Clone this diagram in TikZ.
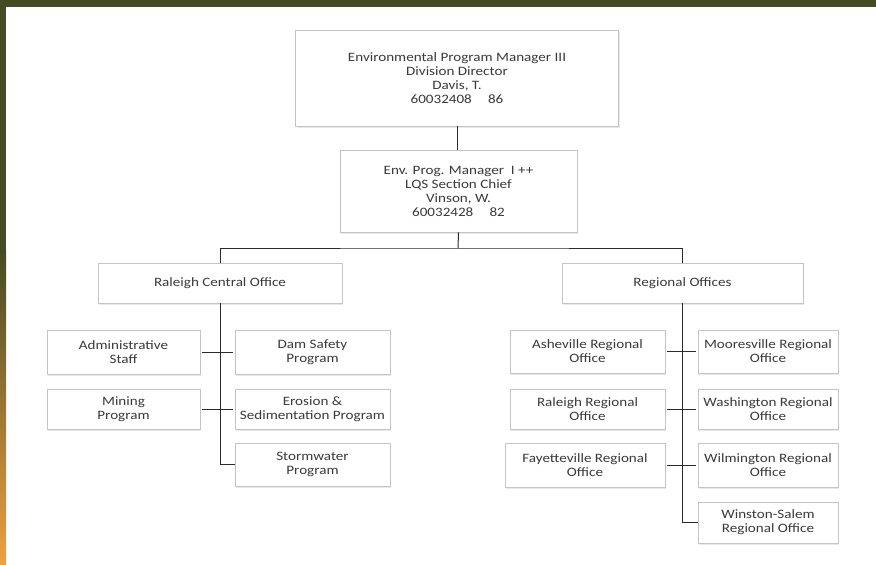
\documentclass[tikz,border=0pt]{standalone}
\usepackage{fontspec}
\setmainfont{Carlito}[FakeStretch=1.18]
\usetikzlibrary{shadows}
\definecolor{olive}{HTML}{454B22}
\definecolor{orangeb}{HTML}{F0A040}
\definecolor{boxline}{HTML}{C4C4C4}
\definecolor{txt}{HTML}{3A3A3A}
\definecolor{conn}{HTML}{2A2A2A}
\begin{document}
\begin{tikzpicture}[x=1pt,y=-1pt,
  box/.style={draw=boxline, line width=0.8pt, fill=white, text=txt, align=center,
    font=\fontsize{12.8}{14}\selectfont, inner sep=0pt,
    drop shadow={opacity=0.18, shadow xshift=1pt, shadow yshift=-1.5pt}},
  conn/.style={draw=conn, line width=1pt}]
\useasboundingbox (0,0) rectangle (876,565);
\fill[white] (0,0) rectangle (876,565);
\fill[olive] (0,0) rectangle (876,7);
\fill[olive] (0,0) rectangle (6,250);
\shade[top color=olive, bottom color=orangeb] (0,250) rectangle (6,565);

% top levels
\node[box, minimum width=323pt, minimum height=96pt] (dir) at (457,78)
  {Environmental Program Manager III\\Division Director\\Davis, T.\\60032408\quad\ 86};
\node[box, minimum width=237pt, minimum height=82pt] (chief) at (458.5,191)
  {Env. Prog. Manager \ I ++\\LQS Section Chief\\Vinson, W.\\60032428\quad\ 82};
\node[box, minimum width=244pt, minimum height=40pt] (rco) at (220,283) {Raleigh Central Office};
\node[box, minimum width=241pt, minimum height=40pt] (ro) at (682.5,283) {Regional Offices};

% central office units
\node[box, minimum width=153pt, minimum height=44pt] (adm) at (123.5,352) {Administrative\\Staff};
\node[box, minimum width=155pt, minimum height=44pt] (dam) at (312.5,352) {Dam Safety\\Program};
\node[box, minimum width=153pt, minimum height=40pt] (min) at (123.5,409) {Mining\\Program};
\node[box, minimum width=155pt, minimum height=40pt] (ero) at (312.5,409) {Erosion \&\\Sedimentation Program};
\node[box, minimum width=155pt, minimum height=43pt] (stw) at (312.5,464.5) {Stormwater\\Program};

% regional offices
\node[box, minimum width=155pt, minimum height=43pt] (ash) at (587.5,351.5) {Asheville Regional\\Office};
\node[box, minimum width=140pt, minimum height=43pt] (moo) at (768,351.5) {Mooresville Regional\\Office};
\node[box, minimum width=155pt, minimum height=40pt] (ral) at (587.5,409) {Raleigh Regional\\Office};
\node[box, minimum width=140pt, minimum height=40pt] (was) at (768,409) {Washington Regional\\Office};
\node[box, minimum width=160pt, minimum height=44pt] (fay) at (585,465) {Fayetteville Regional\\Office};
\node[box, minimum width=140pt, minimum height=44pt] (wil) at (768,465) {Wilmington Regional\\Office};
\node[box, minimum width=140pt, minimum height=41pt] (win) at (768,522.5) {Winston-Salem\\Regional Office};

% connectors
\draw[conn] (dir.south) -- (dir.south |- chief.north);
\coordinate (bus) at (458,248);
\draw[conn] (chief.south) -- (bus);
\draw[conn] (rco.north) |- (bus) -| (ro.north);

\coordinate (lbot) at (rco.south |- stw.west);
\draw[conn] (rco.south) -- (lbot) -- (stw.west);
\draw[conn] ([xshift=2pt]adm.east) -- ([xshift=-2pt]dam.west);
\draw[conn] ([xshift=2pt]min.east) -- ([xshift=-2pt]ero.west);

\coordinate (rbot) at (ro.south |- win.west);
\draw[conn] (ro.south) -- (rbot) -- (win.west);
\draw[conn] ([xshift=2pt]ash.east) -- ([xshift=-2pt]moo.west);
\draw[conn] ([xshift=2pt]ral.east) -- ([xshift=-2pt]was.west);
\draw[conn] ([xshift=2pt]fay.east) -- ([xshift=-2pt]wil.west);
\end{tikzpicture}
\end{document}
